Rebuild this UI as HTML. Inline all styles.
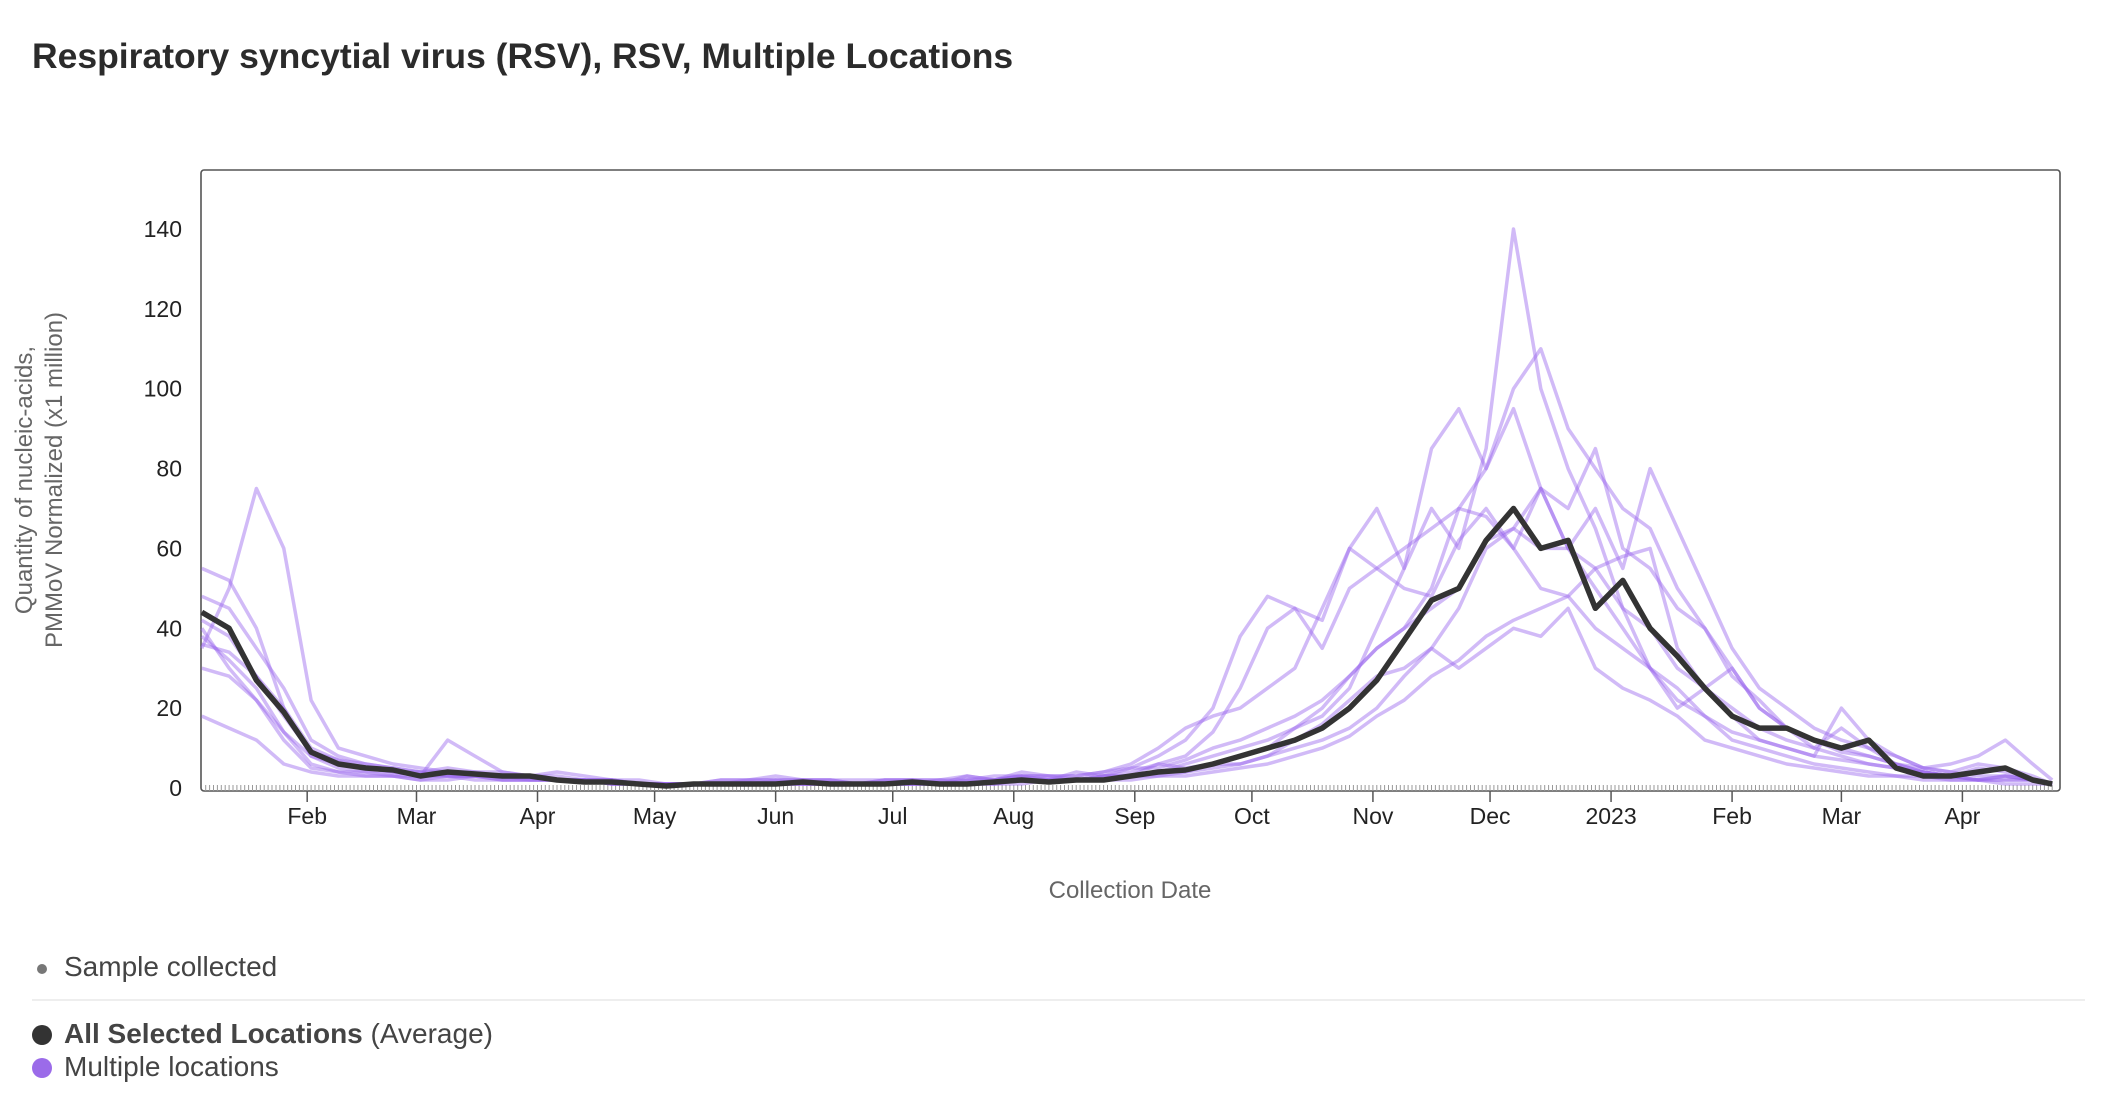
<!DOCTYPE html>
<html><head><meta charset="utf-8"><style>
body{margin:0;background:#fff;width:2102px;height:1116px;overflow:hidden;font-family:"Liberation Sans",sans-serif;}
.title{position:absolute;left:32px;top:36px;font-size:35.5px;font-weight:bold;color:#2b2b2b;}
.leg{position:absolute;left:64px;font-size:28px;color:#444;}
.dot{position:absolute;border-radius:50%;}
</style></head><body>
<div class="title">Respiratory syncytial virus (RSV), RSV, Multiple Locations</div>
<svg id="chart" width="2102" height="1116" style="position:absolute;left:0;top:0"></svg>
<div class="dot" style="left:37px;top:964px;width:10px;height:10px;background:#777"></div>
<div class="leg" style="top:951px">Sample collected</div>
<div style="position:absolute;left:32px;top:999px;width:2053px;height:2px;background:#eee"></div>
<div class="dot" style="left:32px;top:1025px;width:20px;height:20px;background:#333"></div>
<div class="leg" style="top:1018px"><b>All Selected Locations</b> (Average)</div>
<div class="dot" style="left:32px;top:1058px;width:20px;height:20px;background:#9b6be9"></div>
<div class="leg" style="top:1051px">Multiple locations</div>
<script>
const monthLabels=["Feb","Mar","Apr","May","Jun","Jul","Aug","Sep","Oct","Nov","Dec","2023","Feb","Mar","Apr"];
const monthDays=[31,59,90,120,151,181,212,243,273,304,334,365,396,424,455];
const yTicks=[0,20,40,60,80,100,120,140];
const startDay=4, stepDays=7;
const average=[44,40,27,19,9,6,5,4.5,3,4,3.5,3,3,2,1.5,1.5,1,0.5,1,1,1,1,1.5,1,1,1,1.5,1,1,1.5,2,1.5,2,2,3,4,4.5,6,8,10,12,15,20,27,37,47,50,62,70,60,62,45,52,40,33,25,18,15,15,12,10,12,5,3,3,4,5,2,1];
const loc1=[35,50,75,60,22,10,8,6,5,4,4,3,3,2,2,2,1,1,1,1,1,1,2,1,1,1,1,2,1,1,2,2,2,3,3,6,8,14,25,40,45,35,50,55,60,65,70,68,60,50,48,55,58,60,35,25,18,12,10,8,7,6,5,4,3,2,3,2,1];
const loc2=[55,52,40,20,8,5,4,4,3,12,8,4,3,4,3,2,1,1,1,2,2,3,2,2,1,2,2,1,3,2,3,2,4,3,5,8,12,20,38,48,45,42,60,70,55,85,95,80,100,110,90,80,70,65,50,40,28,22,15,12,9,8,6,5,6,8,12,6,2];
const loc3=[40,30,22,12,5,4,3,3,2,3,3,2,2,2,2,1,1,1,1,1,1,1,1,1,1,1,2,1,2,1,2,2,2,2,3,3,4,5,6,8,10,12,15,20,28,35,45,60,65,75,70,85,60,55,45,40,30,20,15,12,10,8,6,4,3,2,2,2,1];
const loc4=[18,15,12,6,4,3,3,3,2,2,3,3,2,2,2,1,1,1,1,1,2,2,2,2,2,2,2,2,3,2,4,3,3,4,5,5,7,10,12,15,18,22,28,35,40,45,50,62,65,60,60,55,45,40,30,25,20,15,12,10,15,10,6,4,3,5,4,2,1];
const loc5=[48,45,35,25,12,8,6,5,4,5,4,4,3,3,2,2,1,1,1,1,1,2,1,1,1,1,1,1,1,2,3,3,2,3,4,6,5,6,6,8,12,16,22,28,30,35,30,35,40,38,45,30,25,22,18,12,10,8,6,5,4,3,3,2,2,2,3,2,1];
const loc6=[38,32,25,14,8,6,5,4,3,3,3,2,2,2,2,1,1,1,1,1,1,1,1,1,1,1,1,1,2,2,3,2,2,3,3,4,6,8,10,12,15,20,28,35,40,50,70,80,95,75,60,50,40,30,22,18,12,10,8,6,5,4,3,3,2,2,1,1,1];
const loc7=[30,28,22,14,6,4,4,3,3,3,2,2,2,2,2,1,1,1,1,1,1,1,1,1,1,1,1,1,1,2,2,2,2,2,3,4,4,6,8,10,15,18,25,40,55,70,60,85,140,100,80,65,45,30,20,25,30,20,15,10,8,6,5,4,3,2,2,2,1];
const loc8=[42,38,28,18,9,7,5,4,4,3,3,3,3,2,2,2,2,1,1,2,2,2,2,2,1,2,2,2,2,3,3,3,3,4,6,10,15,18,20,25,30,45,60,55,50,48,62,70,60,75,60,70,55,80,65,50,35,25,20,15,12,10,8,5,4,6,5,3,1];
const loc9=[36,34,28,20,10,7,6,5,4,4,3,3,3,2,2,2,1,1,1,1,1,1,1,1,1,1,1,1,1,1,1,2,2,2,2,3,3,4,5,6,8,10,13,18,22,28,32,38,42,45,48,40,35,30,25,18,14,12,10,8,20,12,8,5,4,3,3,2,1];
const locations=[loc1,loc2,loc3,loc4,loc5,loc6,loc7,loc8,loc9];

const L=201,R=2060,T=170,B=791,Y0=788,Y140=229;
const x=d=>L+(d-3.8)/(480-3.8)*(R-L);
const y=v=>Y0-v*(Y0-Y140)/140;
const svg=document.getElementById('chart');
const NS='http://www.w3.org/2000/svg';
function mk(t,a){const e=document.createElementNS(NS,t);for(const k in a)e.setAttribute(k,a[k]);svg.appendChild(e);return e;}
let f=mk('rect',{x:L,y:T,width:R-L,height:B-T,rx:3,fill:'none',stroke:'#555','stroke-width':1.6});


let rug='';for(let d=5;d<=478;d++){rug+=`M${x(d).toFixed(1)},${B-6}V${B}`;}
let r=mk('path',{d:rug,stroke:'#999','stroke-width':1});


yTicks.forEach(v=>{let t=mk('text',{x:182,y:y(v)+8,'text-anchor':'end','font-size':23,fill:'#222','font-family':'Liberation Sans, sans-serif'});t.textContent=v;

});
monthLabels.forEach((m,i)=>{const xx=x(monthDays[i]);let l=mk('line',{x1:xx,x2:xx,y1:B,y2:B+11,stroke:'#555','stroke-width':1.5});


let t=mk('text',{x:xx,y:824,'text-anchor':'middle','font-size':23,fill:'#222','font-family':'Liberation Sans, sans-serif'});t.textContent=m;

});
let xt=mk('text',{x:1130,y:898,'text-anchor':'middle','font-size':24,fill:'#666','font-family':'Liberation Sans, sans-serif'});xt.textContent='Collection Date';


let yt=mk('text',{transform:'translate(32,480) rotate(-90)','text-anchor':'middle','font-size':24,fill:'#666','font-family':'Liberation Sans, sans-serif'});
yt.innerHTML='<tspan x="0" dy="0">Quantity of nucleic-acids,</tspan><tspan x="0" dy="30">PMMoV Normalized (x1 million)</tspan>';


function path(arr){return arr.map((v,i)=>(i?'L':'M')+x(Math.min(startDay+i*stepDays,478)).toFixed(1)+','+y(v).toFixed(1)).join('');}
locations.forEach((s,i)=>{let p=mk('path',{d:path(s),fill:'none',stroke:'#9966ee','stroke-opacity':0.45,'stroke-width':3.5,'stroke-linejoin':'round'});

});
let a=mk('path',{d:path(average),fill:'none',stroke:'#333','stroke-width':5.5,'stroke-linejoin':'round'});


</script>
</body></html>
